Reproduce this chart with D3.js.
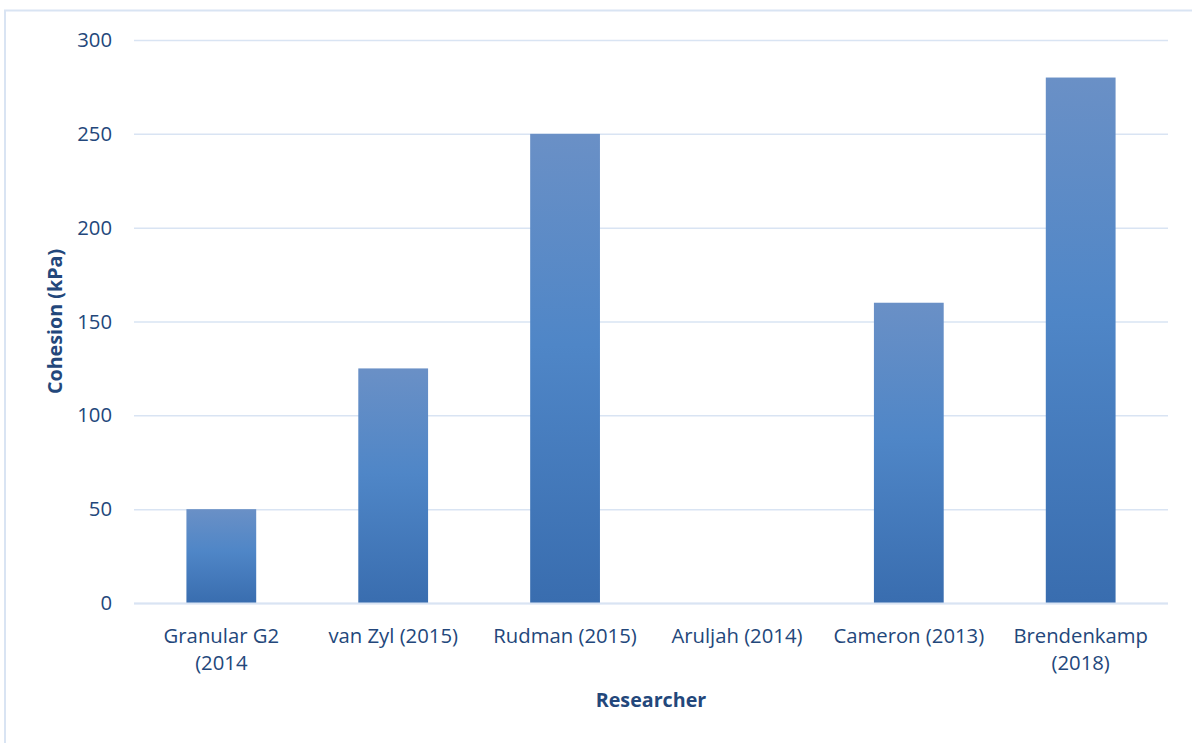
<!DOCTYPE html>
<html>
<head>
<meta charset="utf-8">
<script src="https://cdn.jsdelivr.net/npm/d3@7"></script>
<style>
  html, body { margin: 0; padding: 0; background: #fff; }
  svg { display: block; }
  text { font-family: "Open Sans", "Noto Sans", sans-serif; }
</style>
</head>
<body>
<svg id="chart" width="1192" height="743"></svg>
<script>
// Cohesion values per researcher (kPa)
const researchers = ["Granular G2 (2014", "van Zyl (2015)", "Rudman (2015)", "Aruljah (2014)", "Cameron (2013)", "Brendenkamp (2018)"];
const cohesion = [50, 125, 250, 0, 160, 280];
const yTicks = [0, 50, 100, 150, 200, 250, 300];
// Category label lines as they wrap under the axis
const labelLines = [["Granular G2", "(2014"], ["van Zyl (2015)"], ["Rudman (2015)"], ["Aruljah (2014)"], ["Cameron (2013)"], ["Brendenkamp", "(2018)"]];

const textColor = "#23477b";
const gridColor = "#d9e4f3";
const labelSize = 20.3;

const svg = d3.select("#chart");

// outer chart frame
svg.append("rect")
  .attr("x", 5).attr("y", 10.5)
  .attr("width", 1200).attr("height", 760)
  .attr("fill", "#fff")
  .attr("stroke", gridColor).attr("stroke-width", 2);

const plot = { left: 134, right: 1168, top: 40, bottom: 603 };

const x = d3.scaleBand()
  .domain(researchers)
  .range([plot.left, plot.right])
  .paddingInner(0.594)
  .paddingOuter(0.305);

const y = d3.scaleLinear().domain([0, 300]).range([plot.bottom, plot.top]);

// vertical gradient fill for bars
const defs = svg.append("defs");
const grad = defs.append("linearGradient")
  .attr("id", "barGrad")
  .attr("gradientUnits", "objectBoundingBox")
  .attr("x1", 0).attr("y1", 0).attr("x2", 0).attr("y2", 1);
grad.append("stop").attr("offset", "0%").attr("stop-color", "#6a90c6");
grad.append("stop").attr("offset", "45%").attr("stop-color", "#4f86c7");
grad.append("stop").attr("offset", "100%").attr("stop-color", "#396daf");

// horizontal gridlines with tick labels
const yAxis = d3.axisLeft(y)
  .tickValues(yTicks)
  .tickSize(-(plot.right - plot.left))
  .tickPadding(22)
  .tickFormat(d3.format("d"));

const gy = svg.append("g")
  .attr("transform", `translate(${plot.left},0)`)
  .call(yAxis);
gy.select(".domain").remove();
gy.selectAll(".tick line").attr("stroke", gridColor).attr("stroke-width", 1.5);
gy.selectAll(".tick text")
  .attr("fill", textColor)
  .attr("font-size", labelSize)
  .attr("font-family", "'Open Sans', sans-serif");

// bars
svg.append("g").selectAll("rect")
  .data(researchers.map((r, i) => ({ r, v: cohesion[i] })).filter(d => d.v > 0))
  .join("rect")
  .attr("x", d => x(d.r))
  .attr("y", d => y(d.v))
  .attr("width", x.bandwidth())
  .attr("height", d => y(0) - y(d.v))
  .attr("fill", "url(#barGrad)");

// category axis baseline
svg.append("line")
  .attr("x1", plot.left).attr("x2", plot.right)
  .attr("y1", y(0) + 0.5).attr("y2", y(0) + 0.5)
  .attr("stroke", gridColor).attr("stroke-width", 2);

// category labels
const xl = svg.append("g");
researchers.forEach((r, i) => {
  const t = xl.append("text")
    .attr("x", x(r) + x.bandwidth() / 2)
    .attr("y", 643)
    .attr("text-anchor", "middle")
    .attr("fill", textColor)
    .attr("font-size", labelSize);
  labelLines[i].forEach((line, j) => {
    t.append("tspan")
      .attr("x", x(r) + x.bandwidth() / 2)
      .attr("dy", j === 0 ? 0 : 27)
      .text(line);
  });
});

// axis titles
svg.append("text")
  .attr("x", (plot.left + plot.right) / 2)
  .attr("y", 707)
  .attr("text-anchor", "middle")
  .attr("fill", textColor)
  .attr("font-size", 19.7)
  .attr("font-weight", "bold")
  .text("Researcher");

svg.append("text")
  .attr("transform", `translate(62,${(plot.top + plot.bottom) / 2}) rotate(-90)`)
  .attr("text-anchor", "middle")
  .attr("fill", textColor)
  .attr("font-size", 19.7)
  .attr("font-weight", "bold")
  .text("Cohesion (kPa)");
</script>
</body>
</html>
